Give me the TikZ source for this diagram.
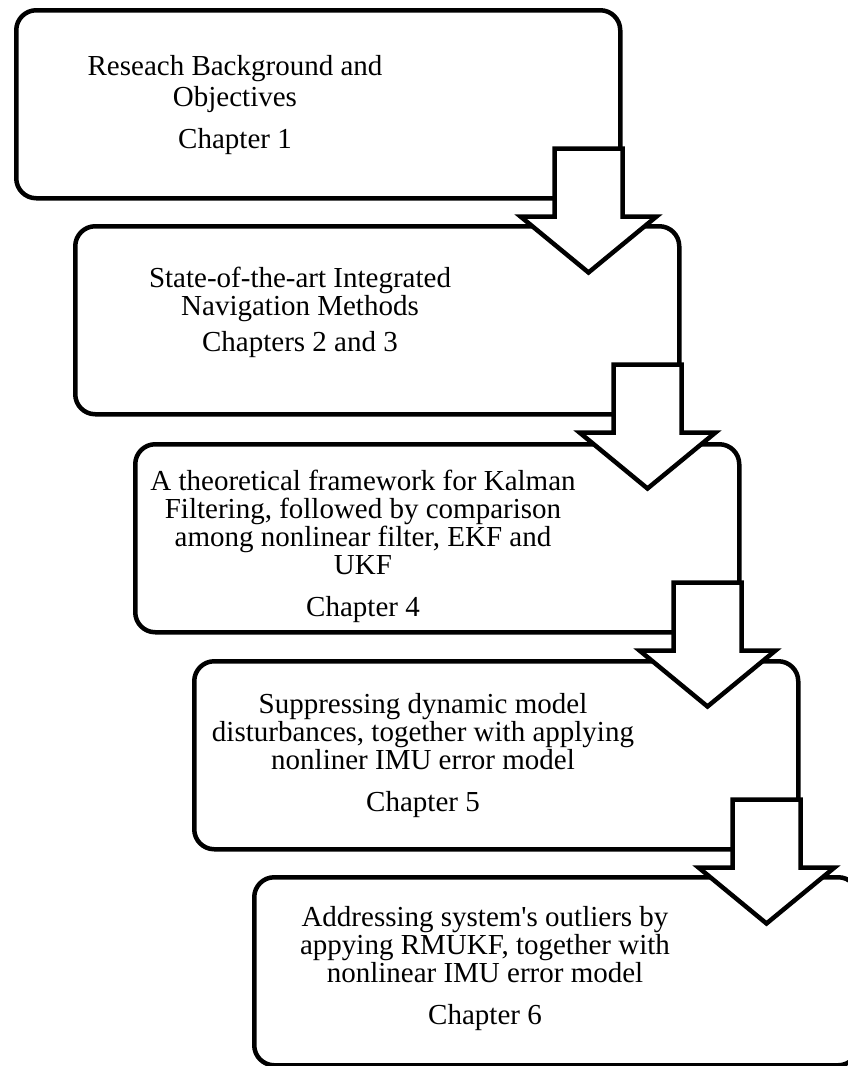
\documentclass[tikz,border=0pt]{standalone}
\usepackage{fontspec}
\setmainfont{Liberation Serif}[Ligatures=TeXOff]
\usetikzlibrary{calc}
\begin{document}
\begin{tikzpicture}[x=1pt,y=-1pt,
  box/.style={draw,line width=4.5pt,rounded corners=20pt,
    minimum width=604pt,minimum height=188pt,anchor=north west,inner sep=0pt},
  flow/.style={draw,fill=white,line width=4.5pt,line join=miter,miter limit=10},
  label/.style={align=center,font=\fontsize{29}{28}\selectfont,inner sep=0pt}]
\useasboundingbox (0,0) rectangle (847,1066);

% chapter boxes
\node[box] (b1) at (14,8) {};
\node[box] (b2) at (73,224) {};
\node[box] (b3) at (133,442) {};
\node[box] (b4) at (192,659) {};
\node[box] (b5) at (252,875) {};

% box texts
\node[label] (t1) at (235,105) {Reseach Background and\\[3pt] Objectives\\[14pt] Chapter 1};
\node[label] (t2) at (300,312) {State-of-the-art Integrated\\ Navigation Methods\\[8pt] Chapters 2 and 3};
\node[label] (t3) at (363,546) {A theoretical framework for Kalman\\ Filtering, followed by comparison\\ among nonlinear filter, EKF and\\ UKF\\[14pt] Chapter 4};
\node[label] (t4) at (423,756) {Suppressing dynamic model\\ disturbances, together with applying\\ nonliner IMU error model\\[14pt] Chapter 5};
\node[label] (t5) at (485,969) {Addressing system's outliers by\\ appying RMUKF, together with\\ nonlinear IMU error model\\[14pt] Chapter 6};

% block arrows hanging from the lower right corner of each box
\foreach \s in {b1,b2,b3,b4} {
  \draw[flow,shift={(\s.south east)}]
    (-68,-52) -- (0,-52) -- (0,16) -- (34,16) -- (-34,72) -- (-102,16) -- (-68,16) -- cycle;
}
\end{tikzpicture}
\end{document}
